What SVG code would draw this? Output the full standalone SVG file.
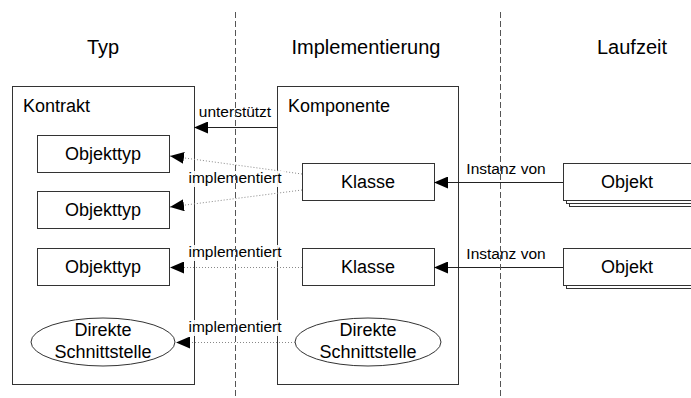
<svg xmlns="http://www.w3.org/2000/svg" width="691" height="398" viewBox="0 0 691 398">
<style>
text{font-family:"Liberation Sans",Arial,sans-serif;fill:#000}
.h{font-size:20px;text-anchor:middle}
.t{font-size:18px}
.c{font-size:18px;text-anchor:middle}
.l{font-size:15.5px;text-anchor:middle}
.box{fill:#fff;stroke:#333;stroke-width:1}
.sep{stroke:#555;stroke-width:1;stroke-dasharray:6 3;fill:none}
.solid{stroke:#222;stroke-width:1;fill:none}
.dot{stroke:#888;stroke-width:1;stroke-dasharray:1 2;fill:none}
.lbg{fill:#fff;opacity:0.9}
</style>
<defs>
<marker id="ah" viewBox="0 0 14 12" refX="14" refY="6" markerWidth="14" markerHeight="12" markerUnits="userSpaceOnUse" orient="auto">
<path d="M0,0 L14,6 L0,12 Z" fill="#000"/>
</marker>
</defs>
<rect width="691" height="398" fill="#fff"/>
<g id="headers">
<text class="h" x="103" y="54">Typ</text>
<text class="h" x="366" y="54">Implementierung</text>
<text class="h" x="632" y="54">Laufzeit</text>
</g>
<g id="kontrakt">
<rect class="box" x="12.5" y="86.5" width="182" height="298"/>
<text class="t" x="23" y="112">Kontrakt</text>
</g>
<g id="objekttyp1">
<rect class="box" x="37.5" y="135.5" width="132" height="37"/>
<text class="c" x="103" y="160">Objekttyp</text>
</g>
<g id="objekttyp2">
<rect class="box" x="37.5" y="191.5" width="132" height="37"/>
<text class="c" x="103" y="216">Objekttyp</text>
</g>
<g id="objekttyp3">
<rect class="box" x="37.5" y="248.5" width="132" height="37"/>
<text class="c" x="103" y="273">Objekttyp</text>
</g>
<g id="direkte1">
<ellipse class="box" cx="103" cy="342" rx="72" ry="24"/>
<text class="c" x="103" y="336">Direkte</text>
<text class="c" x="103" y="358">Schnittstelle</text>
</g>
<g id="komponente">
<rect class="box" x="277.5" y="86.5" width="181" height="298"/>
<text class="t" x="288" y="112">Komponente</text>
</g>
<g id="klasse1">
<rect class="box" x="302.5" y="163.5" width="132" height="37"/>
<text class="c" x="368" y="188">Klasse</text>
</g>
<g id="klasse2">
<rect class="box" x="302.5" y="248.5" width="132" height="37"/>
<text class="c" x="368" y="273">Klasse</text>
</g>
<g id="direkte2">
<ellipse class="box" cx="368" cy="342" rx="73" ry="24"/>
<text class="c" x="368" y="336">Direkte</text>
<text class="c" x="368" y="358">Schnittstelle</text>
</g>
<g id="objekt1">
<rect class="box" x="569.5" y="169.5" width="140" height="37"/>
<rect class="box" x="566.5" y="166.5" width="140" height="37"/>
<rect class="box" x="563.5" y="163.5" width="140" height="37"/>
<text class="c" x="627" y="188">Objekt</text>
</g>
<g id="objekt2">
<rect class="box" x="566.5" y="251.5" width="140" height="37"/>
<rect class="box" x="563.5" y="248.5" width="140" height="37"/>
<text class="c" x="627" y="273">Objekt</text>
</g>
<g id="connectors">
<line class="solid" x1="277" y1="127.5" x2="194" y2="127.5" marker-end="url(#ah)"/>
<line class="dot" x1="302" y1="174" x2="170" y2="156" marker-end="url(#ah)"/>
<line class="dot" x1="302" y1="190" x2="170" y2="207" marker-end="url(#ah)"/>
<line class="dot" x1="302" y1="267.5" x2="170" y2="267.5" marker-end="url(#ah)"/>
<line class="dot" x1="295" y1="342.5" x2="176" y2="342.5" marker-end="url(#ah)"/>
<line class="solid" x1="563" y1="182.5" x2="434" y2="182.5" marker-end="url(#ah)"/>
<line class="solid" x1="563" y1="267.5" x2="434" y2="267.5" marker-end="url(#ah)"/>
<rect class="lbg" x="196" y="105" width="79" height="16"/>
<text class="l" x="235" y="117">unterstützt</text>
<rect class="lbg" x="186" y="171" width="98" height="16"/>
<text class="l" x="235" y="183">implementiert</text>
<rect class="lbg" x="186" y="245" width="98" height="16"/>
<text class="l" x="235" y="257">implementiert</text>
<rect class="lbg" x="186" y="320" width="98" height="16"/>
<text class="l" x="235" y="332">implementiert</text>
<text class="l" x="506" y="174">Instanz von</text>
<text class="l" x="506" y="259">Instanz von</text>
</g>
<g id="separators">
<line class="sep" x1="235.5" y1="12" x2="235.5" y2="398"/>
<line class="sep" x1="500.5" y1="12" x2="500.5" y2="398"/>
</g>
</svg>
